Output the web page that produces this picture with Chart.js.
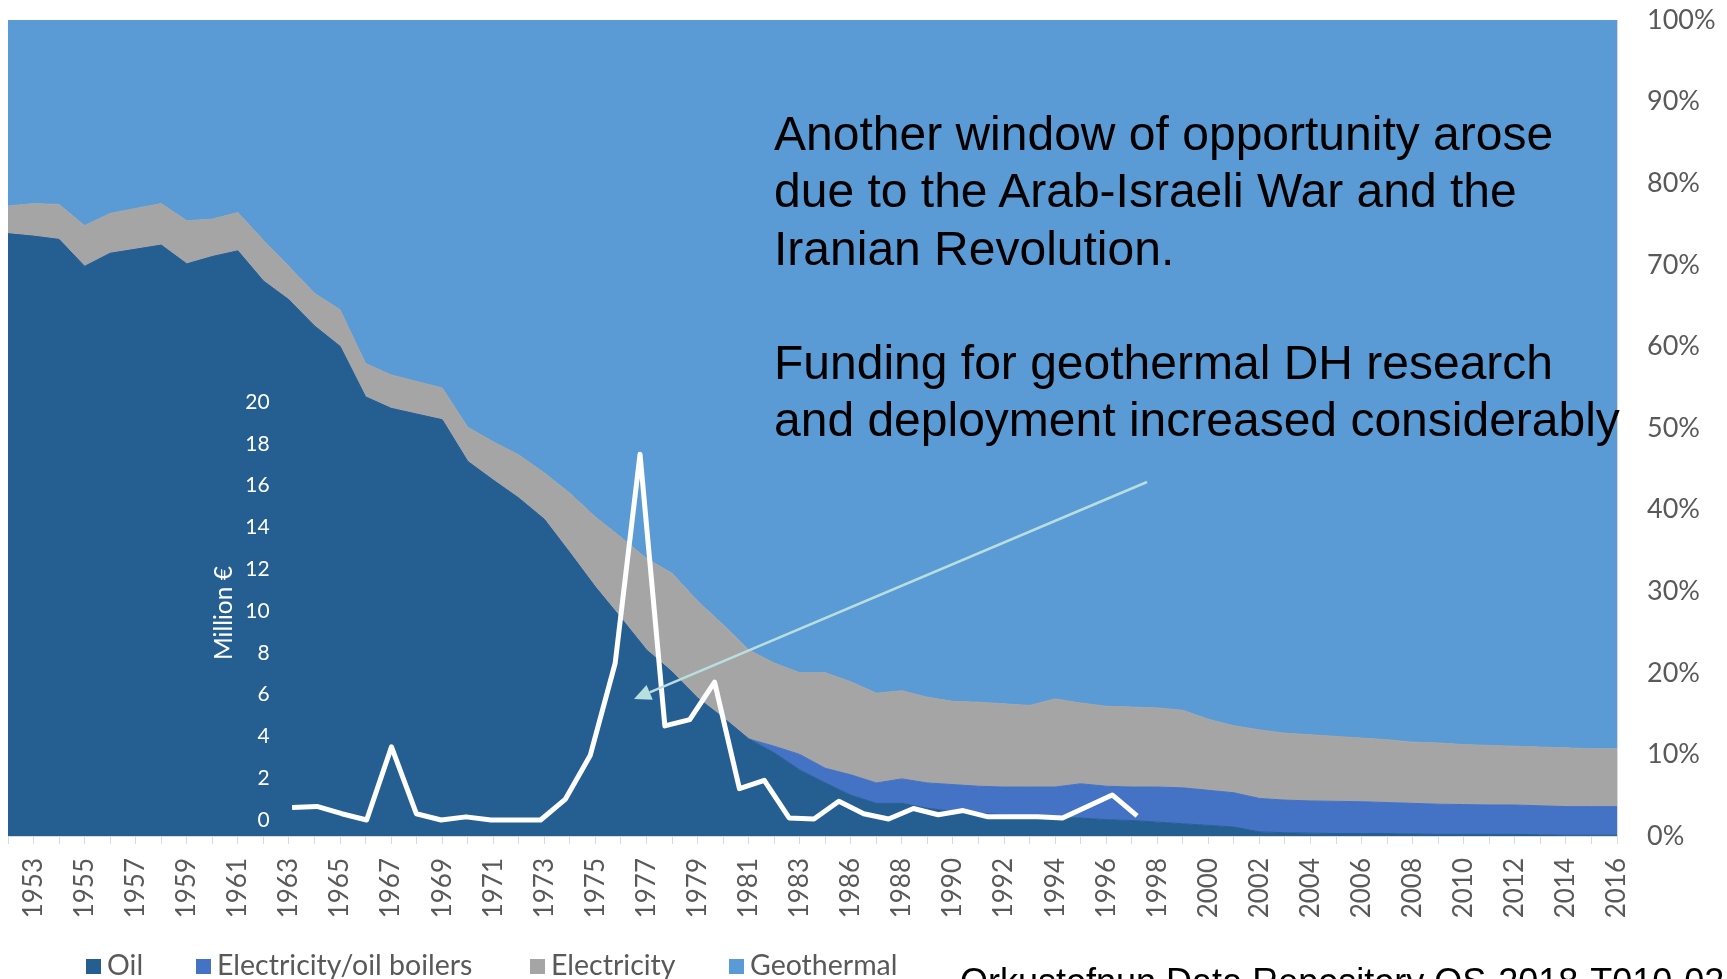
<!DOCTYPE html>
<html>
<head>
<meta charset="utf-8">
<title>Heating shares and geothermal funding</title>
<script src="https://cdn.jsdelivr.net/npm/chart.js@4.4.1/dist/chart.umd.min.js"></script>
<style>
    html, body { margin: 0; padding: 0; background: #ffffff; overflow: hidden; }
    #wrap { position: relative; width: 1727px; height: 979px; }
    #chart { position: absolute; left: 0; top: 0; }
    .note {
        position: absolute; left: 774px; top: 105px;
        font-family: 'Liberation Sans', Arial, sans-serif;
        font-size: 48px; line-height: 57.3px; color: #000000; white-space: nowrap;
    }
    .legend-item {
        position: absolute; top: 946px; height: 36px;
        font-family: Lato, sans-serif; font-size: 28.5px; line-height: 36px; color: #595959;
        white-space: nowrap;
    }
    .legend-item i {
        display: inline-block; width: 15px; height: 15px; margin-right: 6px; vertical-align: 1px;
    }
    .source {
        position: absolute; left: 960px; top: 964px;
        font-family: 'Liberation Sans', Arial, sans-serif;
        font-size: 36px; line-height: 36px; color: #000000; white-space: nowrap;
    }
</style>
</head>
<body>
<div id="wrap">
    <canvas id="chart" width="1727" height="979"></canvas>
    <div class="note">Another window of opportunity arose<br>due to the Arab-Israeli War and the<br>Iranian Revolution.<br><br>Funding for geothermal DH research<br>and deployment increased considerably</div>
    <div id="legend"></div>
    <div class="source">Orkustofnun Data Repository OS-2018-T010-02</div>
</div>
<script>
(function () {
    'use strict';

    // -------------------------------------------------------
    // Datos — cuota de calefacción (%) por año
    // -------------------------------------------------------
    const years = [1952, 1953, 1954, 1955, 1956, 1957, 1958, 1959, 1960, 1961,
        1962, 1963, 1964, 1965, 1966, 1967, 1968, 1969, 1970, 1971,
        1972, 1973, 1974, 1975, 1976, 1977, 1978, 1979, 1980, 1981,
        1982, 1983, 1984, 1986, 1987, 1988, 1989, 1990, 1991, 1992,
        1993, 1994, 1995, 1996, 1997, 1998, 1999, 2000, 2001, 2002,
        2003, 2004, 2005, 2006, 2007, 2008, 2009, 2010, 2011, 2012,
        2013, 2014, 2015, 2016];

    const oilShare = [73.8, 73.5, 73.1, 69.8, 71.4, 71.9, 72.4, 70.1, 71.0, 71.7,
        68.0, 65.7, 62.5, 60.0, 53.8, 52.4, 51.7, 51.0, 45.9, 43.6,
        41.4, 38.8, 34.7, 30.5, 26.7, 22.8, 20.1, 16.9, 14.5, 11.9,
        10.2, 8.1, 6.5, 5.0, 4.0, 4.0, 3.4, 3.0, 2.8, 2.6,
        2.4, 2.3, 2.2, 2.0, 1.9, 1.7, 1.5, 1.3, 1.1, 0.5,
        0.4, 0.35, 0.3, 0.3, 0.3, 0.25, 0.2, 0.2, 0.2, 0.2,
        0.15, 0.1, 0.1, 0.1];

    const elecOilShare = [0, 0, 0, 0, 0, 0, 0, 0, 0, 0,
        0, 0, 0, 0, 0, 0, 0, 0, 0, 0,
        0, 0, 0, 0, 0, 0, 0, 0, 0, 0,
        0.8, 1.9, 1.8, 2.5, 2.5, 3.0, 3.1, 3.3, 3.3, 3.4,
        3.6, 3.7, 4.2, 4.1, 4.1, 4.3, 4.4, 4.3, 4.2, 4.1,
        4.0, 3.95, 3.95, 3.9, 3.8, 3.75, 3.7, 3.65, 3.6, 3.6,
        3.55, 3.5, 3.5, 3.5];

    const elecShare = [3.4, 4.0, 4.3, 5.0, 4.9, 5.0, 5.1, 5.3, 4.6, 4.7,
        5.0, 4.1, 4.0, 4.5, 4.1, 4.1, 4.0, 3.9, 4.2, 4.7,
        5.3, 5.7, 7.3, 8.6, 9.9, 11.2, 12.1, 11.9, 11.4, 10.9,
        10.2, 10.0, 11.7, 11.4, 11.0, 10.8, 10.5, 10.2, 10.3, 10.2,
        10.0, 10.8, 9.9, 9.8, 9.8, 9.7, 9.5, 8.7, 8.2, 8.4,
        8.2, 8.1, 7.95, 7.8, 7.7, 7.5, 7.5, 7.35, 7.3, 7.2,
        7.2, 7.2, 7.1, 7.1];

    const geoShare = [22.8, 22.5, 22.6, 25.2, 23.7, 23.1, 22.5, 24.6, 24.4, 23.6,
        27.0, 30.2, 33.5, 35.5, 42.1, 43.5, 44.3, 45.1, 49.9, 51.7,
        53.3, 55.5, 58.0, 60.9, 63.4, 66.0, 67.8, 71.2, 74.1, 77.2,
        78.8, 80.0, 80.0, 81.1, 82.5, 82.2, 83.0, 83.5, 83.6, 83.8,
        84.0, 83.2, 83.7, 84.1, 84.2, 84.3, 84.6, 85.7, 86.5, 87.0,
        87.4, 87.6, 87.8, 88.0, 88.2, 88.5, 88.6, 88.8, 88.9, 89.0,
        89.1, 89.2, 89.3, 89.3];

    // Financiación geotérmica (millones de €)
    const fundYears = [1963, 1964, 1965, 1966, 1967, 1968, 1969, 1970, 1971, 1972,
        1973, 1974, 1975, 1976, 1977, 1978, 1979, 1980, 1981, 1982,
        1983, 1984, 1985, 1986, 1987, 1988, 1989, 1990, 1991, 1992,
        1993, 1994, 1995, 1996, 1997];
    const fundMillions = [0.6, 0.65, 0.3, 0, 3.5, 0.3, 0, 0.15, 0, 0,
        0, 1.0, 3.1, 7.5, 17.5, 4.5, 4.8, 6.6, 1.5, 1.9,
        0.1, 0.05, 0.9, 0.3, 0.05, 0.55, 0.25, 0.45, 0.15, 0.15,
        0.15, 0.1, 0.65, 1.2, 0.2];

    const shareTicks = [0, 10, 20, 30, 40, 50, 60, 70, 80, 90, 100];
    const fundTicks = [0, 2, 4, 6, 8, 10, 12, 14, 16, 18, 20];

    // Paleta (tema Office)
    const C = {
        oil: '#255e91',
        elecOil: '#4472c4',
        elec: '#a5a5a5',
        geo: '#5b9bd5',
        text: '#595959',
        axis: '#d9d9d9',
        arrow: '#b9dede',
    };

    // Área de trazado deseada (px)
    const AREA = { left: 8, top: 20, right: 1617, bottom: 836 };

    const SERIES = [
        { label: 'Oil', data: oilShare, color: C.oil, x: 86 },
        { label: 'Electricity/oil boilers', data: elecOilShare, color: C.elecOil, x: 196 },
        { label: 'Electricity', data: elecShare, color: C.elec, x: 530 },
        { label: 'Geothermal', data: geoShare, color: C.geo, x: 729 },
    ];

    // -------------------------------------------------------
    // Leyenda HTML
    // -------------------------------------------------------
    const legend = document.getElementById('legend');
    SERIES.forEach(s => {
        const item = document.createElement('div');
        item.className = 'legend-item';
        item.style.left = s.x + 'px';
        const box = document.createElement('i');
        box.style.background = s.color;
        item.appendChild(box);
        item.appendChild(document.createTextNode(s.label));
        legend.appendChild(item);
    });

    // -------------------------------------------------------
    // Plugin: flecha y título del eje interno
    // -------------------------------------------------------
    const overlay = {
        id: 'overlay',
        afterDraw(chart) {
            const ctx = chart.ctx;
            const xf = chart.scales.xFund;
            const yf = chart.scales.yFund;

            // título "Million €"
            ctx.save();
            ctx.translate(xf.getPixelForValue(1960.25), yf.getPixelForValue(9.9));
            ctx.rotate(-Math.PI / 2);
            ctx.font = '24.5px Lato';
            ctx.fillStyle = '#ffffff';
            ctx.textAlign = 'center';
            ctx.textBaseline = 'middle';
            ctx.fillText('Million €', 0, 0);
            ctx.restore();

            // flecha
            const x1 = 1147, y1 = 482, x2 = 634, y2 = 699;
            const ang = Math.atan2(y2 - y1, x2 - x1);
            const head = 17, half = 8;
            const bx = x2 - head * Math.cos(ang), by = y2 - head * Math.sin(ang);
            ctx.save();
            ctx.strokeStyle = C.arrow;
            ctx.fillStyle = C.arrow;
            ctx.lineWidth = 2.5;
            ctx.beginPath();
            ctx.moveTo(x1, y1);
            ctx.lineTo(bx, by);
            ctx.stroke();
            ctx.beginPath();
            ctx.moveTo(x2, y2);
            ctx.lineTo(bx + half * Math.sin(ang), by - half * Math.cos(ang));
            ctx.lineTo(bx - half * Math.sin(ang), by + half * Math.cos(ang));
            ctx.closePath();
            ctx.fill();
            ctx.restore();
        }
    };

    const areaSets = SERIES.map((s, i) => ({
        type: 'line',
        label: s.label,
        data: s.data,
        xAxisID: 'x',
        yAxisID: 'y',
        backgroundColor: s.color,
        borderColor: s.color,
        borderWidth: 1,
        pointRadius: 0,
        tension: 0,
        fill: i === 0 ? 'origin' : '-1',
        order: 1,
    }));

    const fundSet = {
        type: 'line',
        label: 'Funding',
        data: fundYears.map((y, i) => ({ x: y, y: fundMillions[i] })),
        xAxisID: 'xFund',
        yAxisID: 'yFund',
        borderColor: '#ffffff',
        borderWidth: 5,
        borderJoinStyle: 'round',
        pointRadius: 0,
        tension: 0,
        fill: false,
        order: 0,
    };

    const noPad = s => { s.paddingTop = 0; s.paddingBottom = 0; };

    const chart = new Chart(document.getElementById('chart'), {
        type: 'line',
        data: {
            labels: years.map(String),
            datasets: [...areaSets, fundSet],
        },
        options: {
            responsive: false,
            animation: false,
            layout: { padding: { left: AREA.left, top: AREA.top, right: 0, bottom: 0 } },
            plugins: {
                legend: { display: false },
                tooltip: { enabled: false },
            },
            scales: {
                x: {
                    type: 'category',
                    position: 'bottom',
                    offset: false,
                    grid: { drawOnChartArea: false, drawTicks: true, tickLength: 8, color: C.axis },
                    border: { display: true, color: C.axis },
                    ticks: {
                        autoSkip: false,
                        minRotation: 90,
                        maxRotation: 90,
                        padding: 14,
                        color: C.text,
                        font: { family: 'Lato', size: 26 },
                        callback: (v, i) => (i % 2 === 1 ? years[i] : ''),
                    },
                    afterFit: s => { s.height = 979 - AREA.bottom; s.paddingLeft = 0; s.paddingRight = 0; },
                },
                y: {
                    type: 'linear',
                    position: 'right',
                    stacked: true,
                    min: 0,
                    max: 100,
                    grid: { display: false, drawTicks: false },
                    border: { display: true, color: C.axis },
                    ticks: {
                        padding: 30,
                        color: C.text,
                        font: { family: 'Lato', size: 27 },
                        callback: v => v + '%',
                    },
                    afterBuildTicks: s => { s.ticks = shareTicks.map(v => ({ value: v })); },
                    afterFit: s => { s.width = 1727 - AREA.right; noPad(s); },
                },
                xFund: {
                    type: 'linear',
                    display: false,
                    min: 1951.57,
                    max: 2016.31,
                },
                yFund: {
                    type: 'linear',
                    position: { xFund: 1962.1 },
                    min: -0.766,
                    max: 38.28,
                    grid: { display: false, drawTicks: false },
                    border: { display: false },
                    ticks: {
                        z: 1,
                        padding: 0,
                        color: '#ffffff',
                        font: { family: 'Lato', size: 21 },
                    },
                    afterBuildTicks: s => { s.ticks = fundTicks.map(v => ({ value: v })); },
                    afterFit: noPad,
                },
            },
        },
        plugins: [overlay],
    });

    // Ajuste fino: llevar el área de trazado a la posición deseada
    const ca = chart.chartArea;
    const dTop = ca.top - AREA.top;
    const dLeft = ca.left - AREA.left;
    if (Math.abs(dTop) > 0.5 || Math.abs(dLeft) > 0.5) {
        chart.options.layout.padding.top = AREA.top - dTop;
        chart.options.layout.padding.left = AREA.left - dLeft;
        chart.update();
    }
})();
</script>
</body>
</html>
